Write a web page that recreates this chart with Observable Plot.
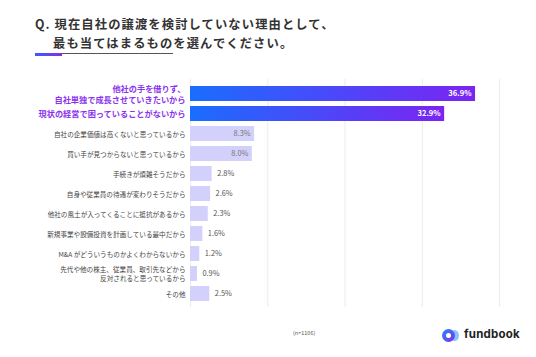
<!DOCTYPE html>
<html><head><meta charset="utf-8">
<script src="https://cdn.jsdelivr.net/npm/d3@7"></script>
<script src="https://cdn.jsdelivr.net/npm/@observablehq/plot@0.6"></script>
<style>
body{margin:0;background:#fff;font-family:"Noto Sans CJK JP","Noto Sans",sans-serif;}
#wrap{position:relative;width:536px;height:357px;overflow:hidden;}
.t{position:absolute;font-weight:700;color:#333;font-size:12.3px;letter-spacing:1.1px;white-space:nowrap;line-height:1;}
#chart{position:absolute;left:0;top:65px;}
#n{position:absolute;left:293px;top:329px;font-size:5.5px;color:#555;}
#logo{position:absolute;left:442px;top:327px;height:16px;}
#ico{position:absolute;left:0;top:2px;width:13px;height:13px;border-radius:50%;background:linear-gradient(135deg,#1a8cff,#8a2be2);}
#ico2{position:absolute;left:8px;top:3px;width:9px;height:11px;border-radius:50%;background:#3aa0ff;opacity:0.6;}
#hole{position:absolute;left:4px;top:6px;width:5px;height:5px;border-radius:50%;background:#fff;}
#lt{position:absolute;left:22px;top:0px;font-family:"Inter","Noto Sans",sans-serif;font-weight:700;font-size:11.5px;color:#222;letter-spacing:0.2px;}
</style></head>
<body><div id="wrap">
<div class="t" style="left:35px;top:18px;">Q. 現在自社の譲渡を検討していない理由として、</div>
<div class="t" style="left:53px;top:37px;"><span style="border-bottom:1.5px solid #555;padding-bottom:1px;">最も当てはまるもの</span>を選んでください。</div>
<div style="position:absolute;left:35px;top:53px;width:27px;height:2.5px;background:linear-gradient(90deg,#3a5cff,#8a2be2);"></div>
<div id="chart"></div>
<div id="n">(n=1106)</div>
<div id="logo"><div id="ico2"></div><div id="ico"></div><div id="hole"></div><div id="lt">fundbook</div></div>
</div>
<script>
const categories = [
  "他社の手を借りず、\n自社単独で成長させていきたいから",
  "現状の経営で困っていることがないから",
  "自社の企業価値は高くないと思っているから",
  "買い手が見つからないと思っているから",
  "手続きが煩雑そうだから",
  "自身や従業員の待遇が変わりそうだから",
  "他社の風土が入ってくることに抵抗があるから",
  "新規事業や設備投資を計画している最中だから",
  "M&A がどういうものかよくわからないから",
  "先代や他の株主、従業員、取引先などから\n反対されると思っているから",
  "その他"
];
const values = [36.9, 32.9, 8.3, 8.0, 2.8, 2.6, 2.3, 1.6, 1.2, 0.9, 2.5];
const highlighted = [true, true, false, false, false, false, false, false, false, false, false];
const gridTicks = [0, 10, 20, 30, 40];

const data = categories.map((c, i) => ({category: c, value: values[i], hi: highlighted[i]}));
const hiData = data.filter(d => d.hi);
const loData = data.filter(d => !d.hi);
const inside = data.filter(d => !d.hi && d.value > 5);
const outside = data.filter(d => !d.hi && d.value <= 5);

const font = '"Noto Sans CJK JP","Noto Sans",sans-serif';
const chart = Plot.plot({
  width: 536, height: 245,
  marginLeft: 190, marginRight: 37, marginTop: 14, marginBottom: 3,
  style: {fontFamily: font, background: "transparent"},
  x: {domain: [0, 40], axis: null},
  y: {domain: categories, axis: null, paddingInner: 0.27, paddingOuter: 0.15},
  marks: [
    Plot.ruleX(gridTicks, {stroke: "#ececec", strokeWidth: 1}),
    Plot.barX(hiData, {y: "category", x: "value", fill: "url(#barGrad)"}),
    Plot.barX(loData, {y: "category", x: "value", fill: "#d3d1fb"}),
    Plot.text(hiData, {y: "category", x: 0, text: "category", textAnchor: "end", dx: -5, fontSize: 8.2, fontWeight: 700, fill: "#8a34ee", lineHeight: 1.3}),
    Plot.text(loData, {y: "category", x: 0, text: "category", textAnchor: "end", dx: -5, fontSize: 6.6, fill: "#444", lineHeight: 1.35}),
    Plot.text(hiData, {y: "category", x: "value", text: d => d.value.toFixed(1) + "%", textAnchor: "end", dx: -4, fontSize: 7.6, fontWeight: 700, fill: "#fff"}),
    Plot.text(inside, {y: "category", x: "value", text: d => d.value.toFixed(1) + "%", textAnchor: "end", dx: -4, fontSize: 7.4, fill: "#777"}),
    Plot.text(outside, {y: "category", x: "value", text: d => d.value.toFixed(1) + "%", textAnchor: "start", dx: 5, fontSize: 7.4, fill: "#555"})
  ]
});
const svg = d3.select(chart);
const defs = svg.insert("defs", ":first-child");
const g = defs.append("linearGradient").attr("id", "barGrad").attr("x1", 0).attr("x2", 1).attr("y1", 0).attr("y2", 0);
g.append("stop").attr("offset", "0%").attr("stop-color", "#1a6dff");
g.append("stop").attr("offset", "100%").attr("stop-color", "#7b24f2");
document.getElementById("chart").appendChild(chart);
</script>
</body></html>
